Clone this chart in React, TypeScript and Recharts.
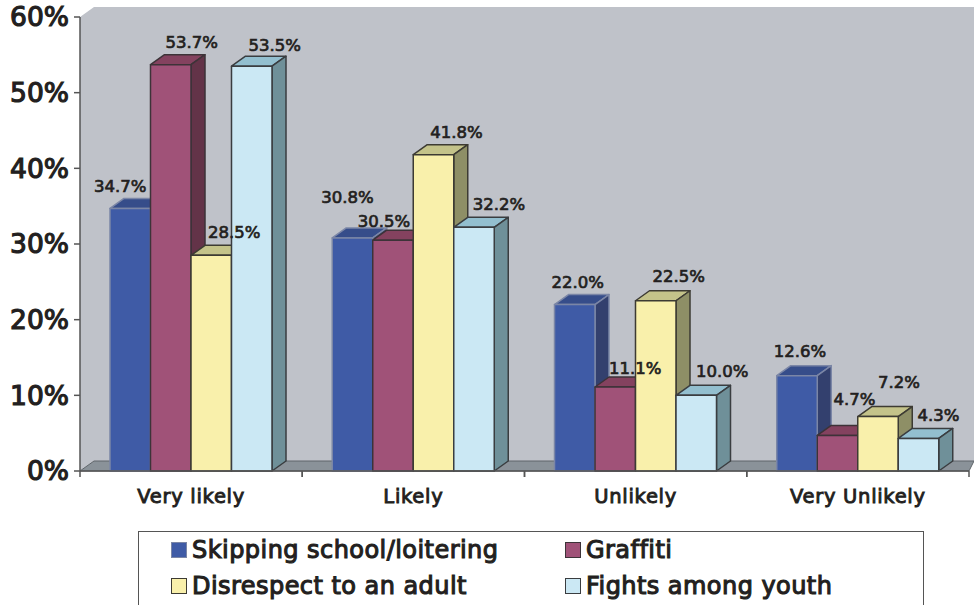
import { BarChart, Bar, XAxis, YAxis, LabelList } from 'recharts';

const categories = ['Very likely', 'Likely', 'Unlikely', 'Very Unlikely'];
const skipping = [34.7, 30.8, 22.0, 12.6];
const graffiti = [53.7, 30.5, 11.1, 4.7];
const disrespect = [28.5, 41.8, 22.5, 7.2];
const fights = [53.5, 32.2, 10.0, 4.3];
const yTicks = [0, 10, 20, 30, 40, 50, 60];

const FONT = '"DejaVu Sans", sans-serif';
const INK = '#231f20';
const WIDTH = 974;
const HEIGHT = 605;
const PLOT = { left: 80, right: 969, top: 17, bottom: 471 };
const DEPTH_X = 14;
const DEPTH_Y = 10;

// regular weight plus a thin outline gives a demi-bold look
const textWeight = { fontFamily: FONT, fontWeight: 400, fill: INK, stroke: INK };

const rows = categories.map((name, i) => ({
  name,
  skipping: skipping[i],
  graffiti: graffiti[i],
  disrespect: disrespect[i],
  fights: fights[i],
}));

// each value label sits off its bar by hand, so the tall neighbours don't hide it
const series = [
  {
    key: 'skipping', label: 'Skipping school/loitering', face: '#3f5ba6', top: '#364d8a', side: '#33406e', edge: '#7b86a6',
    nudge: [[-10, -22], [-5, -40], [3, -22], [3, -24]],
  },
  {
    key: 'graffiti', label: 'Graffiti', face: '#a05278', top: '#84425f', side: '#633348', edge: '#3d3338',
    nudge: [[21, -22], [-9, -19], [20, -19], [17, -36]],
  },
  {
    key: 'disrespect', label: 'Disrespect to an adult', face: '#f9f0ab', top: '#c4c38a', side: '#8e8f66', edge: '#3d3b33',
    nudge: [[23, -23], [23, -22], [23, -24], [21, -34]],
  },
  {
    key: 'fights', label: 'Fights among youth', face: '#cbe8f4', top: '#93bfcf', side: '#6f9099', edge: '#3a3d40',
    nudge: [[23, -21], [25, -23], [26, -24], [20, -23]],
  },
];

function Bar3D(props: any, s: (typeof series)[number]) {
  const { x, y, width, height } = props;
  const r = x + width;
  const b = y + height;
  return (
    <g stroke={s.edge} strokeWidth={1.5} strokeLinejoin="round">
      <polygon points={`${x},${y} ${x + DEPTH_X},${y - DEPTH_Y} ${r + DEPTH_X},${y - DEPTH_Y} ${r},${y}`} fill={s.top} />
      <polygon points={`${r},${y} ${r + DEPTH_X},${y - DEPTH_Y} ${r + DEPTH_X},${b - DEPTH_Y} ${r},${b}`} fill={s.side} />
      <rect x={x} y={y} width={width} height={height} fill={s.face} />
    </g>
  );
}

function ValueLabel(props: any, s: (typeof series)[number]) {
  const { x, y, width, value, index } = props;
  const [dx, dy] = s.nudge[index];
  return (
    <text
      x={x + width / 2 + dx}
      y={y + dy}
      textAnchor="middle"
      dominantBaseline="central"
      fontSize={16.5}
      strokeWidth={0.7}
      {...textWeight}
    >
      {`${Number(value).toFixed(1)}%`}
    </text>
  );
}

// category label, with the tick marks pushed out to the band edges
function CategoryTick(props: any) {
  const { x, y, payload } = props;
  const band = (PLOT.right - PLOT.left) / categories.length;
  return (
    <g>
      <line x1={x - band / 2} x2={x - band / 2} y1={PLOT.bottom} y2={PLOT.bottom + 6} stroke="#555" strokeWidth={1.5} />
      <line x1={x + band / 2} x2={x + band / 2} y1={PLOT.bottom} y2={PLOT.bottom + 6} stroke="#555" strokeWidth={1.5} />
      <text
        x={x}
        y={y + 17}
        textAnchor="middle"
        dominantBaseline="central"
        fontSize={19.5}
        letterSpacing={0.7}
        strokeWidth={0.9}
        {...textWeight}
      >
        {payload.value}
      </text>
    </g>
  );
}

function Backdrop() {
  const { left, right, top, bottom } = PLOT;
  return (
    <g>
      <polygon
        points={`${left},${top} ${left + DEPTH_X},${top - DEPTH_Y} ${WIDTH},${top - DEPTH_Y} ${WIDTH},${bottom - DEPTH_Y} ${left + DEPTH_X},${bottom - DEPTH_Y} ${left},${bottom}`}
        fill="#bfc2c9"
      />
      <polygon
        points={`${left},${bottom} ${left + DEPTH_X},${bottom - DEPTH_Y} ${WIDTH},${bottom - DEPTH_Y} ${right},${bottom}`}
        fill="#8a9299"
        stroke="#5f656a"
        strokeWidth={1}
      />
    </g>
  );
}

function LegendBox() {
  const slots = [
    { left: 170, top: 539 },
    { left: 564, top: 539 },
    { left: 170, top: 575 },
    { left: 564, top: 575 },
  ];
  return (
    <div
      style={{
        position: 'absolute',
        left: 138,
        top: 531,
        width: 786,
        height: 90,
        border: '1.5px solid #555',
        boxSizing: 'border-box',
      }}
    >
      {series.map((s, i) => (
        <div
          key={s.key}
          style={{
            position: 'absolute',
            left: slots[i].left - 138,
            top: slots[i].top - 531,
            display: 'flex',
            alignItems: 'center',
            height: 20,
            whiteSpace: 'nowrap',
            fontFamily: FONT,
            fontSize: 24,
            letterSpacing: 0.45,
            color: INK,
            WebkitTextStroke: `1.1px ${INK}`,
          }}
        >
          <span style={{ width: 16, height: 16, marginRight: 5, background: s.face, border: `1px solid ${s.edge}`, boxSizing: 'border-box' }} />
          {s.label}
        </div>
      ))}
    </div>
  );
}

export default function App() {
  return (
    <div style={{ position: 'absolute', left: 0, top: 0, width: WIDTH, height: HEIGHT, overflow: 'hidden', background: '#fff' }}>
      <BarChart
        width={WIDTH}
        height={HEIGHT}
        data={rows}
        margin={{ top: PLOT.top, right: WIDTH - PLOT.right, bottom: 0, left: 0 }}
        barSize={40.5}
        barGap={0}
      >
        <Backdrop />
        <XAxis
          dataKey="name"
          height={HEIGHT - PLOT.bottom}
          axisLine={{ stroke: '#555', strokeWidth: 1.5 }}
          tickLine={false}
          tick={CategoryTick}
          interval={0}
        />
        <YAxis
          width={PLOT.left}
          domain={[0, 60]}
          ticks={yTicks}
          interval={0}
          axisLine={{ stroke: '#555', strokeWidth: 1.5 }}
          tickLine={{ stroke: '#555', strokeWidth: 1.5 }}
          tickSize={6}
          tickMargin={5}
          tickFormatter={(v: number) => `${v}%`}
          tick={{ fontSize: 26.5, strokeWidth: 1.2, ...textWeight }}
        />
        {series.map((s) => (
          <Bar key={s.key} dataKey={s.key} isAnimationActive={false} shape={(p: any) => Bar3D(p, s)}>
            <LabelList dataKey={s.key} content={(p: any) => ValueLabel(p, s)} />
          </Bar>
        ))}
      </BarChart>
      <LegendBox />
    </div>
  );
}
